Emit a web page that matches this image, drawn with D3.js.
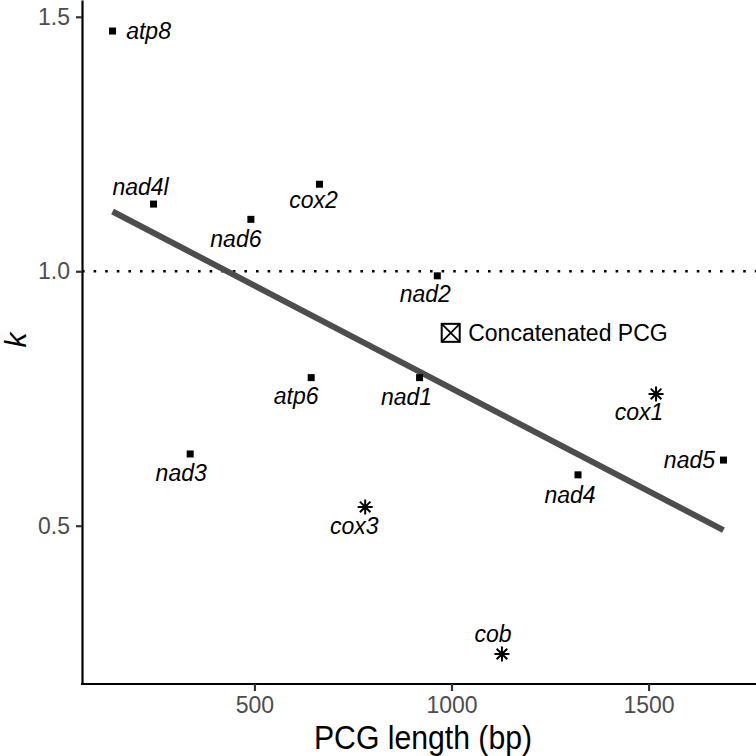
<!DOCTYPE html>
<html>
<head>
<meta charset="utf-8">
<script src="https://cdn.jsdelivr.net/npm/d3@7"></script>
<style>
  body { margin: 0; background: #fff; }
  svg { display: block; }
</style>
</head>
<body>
<div id="chart"></div>
<script>
// gene names, PCG length (bp) and k
var genes   = ["atp8", "nad4l", "nad6", "cox2", "nad2", "atp6", "nad1", "nad3", "cox3", "cob", "cox1", "nad4", "nad5"];
var lengths = [140, 244, 491, 665, 964, 644, 919, 337, 781, 1128, 1519, 1321, 1690];
var kValues = [1.472, 1.132, 1.102, 1.171, 0.991, 0.791, 0.791, 0.641, 0.537, 0.248, 0.759, 0.600, 0.629];
var shapes  = ["square", "square", "square", "square", "square", "square", "square", "square", "star", "star", "star", "square", "square"];

// concatenated PCG point
var concatName = "Concatenated PCG";
var concatLength = 998;
var concatK = 0.879;

// linear fit k ~ length
var lmIntercept = 1.174;
var lmSlope = -0.000404;
var refLine = 1.0;

var xTicks = [500, 1000, 1500];
var yTicks = [0.5, 1.0, 1.5];

// label placement relative to each point (px): dx of text centre, dy of baseline
var labelOffsets = {
    atp8:  [36, 8],   nad4l: [-13, -9], nad6: [-15, 28], cox2: [-6, 24],
    nad2:  [-12, 26], atp6:  [-15, 26], nad1: [-13, 27], nad3: [-9, 27],
    cox3:  [-11, 27], cob:   [-9, -12], cox1: [-17, 26], nad4: [-8, 28],
    nad5:  [-34, 8]
};

var width = 756, height = 756;
var font = "'Liberation Sans', Arial, Helvetica, sans-serif";

var svg = d3.select("#chart")
    .append("svg")
    .attr("width", width)
    .attr("height", height);

var x = d3.scaleLinear().domain([62.5, 1767.5]).range([82, 754]);
var y = d3.scaleLinear().domain([0.189, 1.533]).range([684, 0]);

var data = genes.map(function(g, i){
    return {gene: g, len: lengths[i], k: kValues[i], shape: shapes[i]};
});

// dotted reference line at k = 1
svg.append("line")
    .attr("x1", x.range()[0]).attr("x2", width)
    .attr("y1", y(refLine)).attr("y2", y(refLine))
    .attr("stroke", "#000")
    .attr("stroke-width", 2.6)
    .attr("stroke-dasharray", "2.6,9");

// regression line over the data range
var xr = d3.extent(lengths);
svg.append("line")
    .attr("x1", x(xr[0])).attr("y1", y(lmIntercept + lmSlope * xr[0]))
    .attr("x2", x(xr[1])).attr("y2", y(lmIntercept + lmSlope * xr[1]))
    .attr("stroke", "#4d4d4d")
    .attr("stroke-width", 6);

// axes
var xAxis = svg.append("g")
    .attr("transform", "translate(0," + y.range()[0] + ")")
    .call(d3.axisBottom(x).tickValues(xTicks).tickSizeInner(7).tickSizeOuter(0).tickPadding(6).tickFormat(d3.format("d")));
var yAxis = svg.append("g")
    .attr("transform", "translate(" + x.range()[0] + ",0)")
    .call(d3.axisLeft(y).tickValues(yTicks).tickSizeInner(6).tickSizeOuter(0).tickPadding(6).tickFormat(d3.format(".1f")));

[xAxis, yAxis].forEach(function(a){
    a.select(".domain").attr("stroke", "#000").attr("stroke-width", 2.2);
    a.selectAll(".tick line").attr("stroke", "#333").attr("stroke-width", 2.2);
    a.selectAll(".tick text")
        .attr("fill", "#4d4d4d")
        .style("font-family", font)
        .style("font-size", "23px");
});
// close the x axis line onto the y axis corner
xAxis.select(".domain").attr("d", "M" + (x.range()[0] - 1) + ",0H" + width);

// square points
svg.selectAll(".sq")
    .data(data.filter(function(d){ return d.shape === "square"; }))
    .enter()
    .append("rect")
    .attr("class", "sq")
    .attr("x", function(d){ return x(d.len) - 3.5; })
    .attr("y", function(d){ return y(d.k) - 3.5; })
    .attr("width", 7).attr("height", 7)
    .attr("fill", "#000");

// asterisk points
var star = svg.selectAll(".star")
    .data(data.filter(function(d){ return d.shape === "star"; }))
    .enter()
    .append("g")
    .attr("class", "star")
    .attr("transform", function(d){ return "translate(" + x(d.len) + "," + y(d.k) + ")"; });
star.append("path")
    .attr("d", "M-7.5,0H7.5M0,-7.5V7.5M-5.3,-5.3L5.3,5.3M-5.3,5.3L5.3,-5.3")
    .attr("stroke", "#000")
    .attr("stroke-width", 2);

// gene labels
svg.selectAll(".lab")
    .data(data)
    .enter()
    .append("text")
    .attr("class", "lab")
    .attr("x", function(d){ return x(d.len) + labelOffsets[d.gene][0]; })
    .attr("y", function(d){ return y(d.k) + labelOffsets[d.gene][1]; })
    .attr("text-anchor", "middle")
    .style("font-family", font)
    .style("font-style", "italic")
    .style("font-size", "23px")
    .attr("fill", "#000")
    .text(function(d){ return d.gene; });

// concatenated PCG: boxed cross
var cg = svg.append("g")
    .attr("transform", "translate(" + x(concatLength) + "," + y(concatK) + ")");
cg.append("rect")
    .attr("x", -9).attr("y", -9).attr("width", 18).attr("height", 18)
    .attr("fill", "none").attr("stroke", "#000").attr("stroke-width", 2);
cg.append("path")
    .attr("d", "M-9,-9L9,9M-9,9L9,-9")
    .attr("stroke", "#000").attr("stroke-width", 1.8);
svg.append("text")
    .attr("x", x(concatLength) + 17.5)
    .attr("y", y(concatK) + 8.4)
    .style("font-family", font)
    .style("font-size", "23px")
    .attr("fill", "#000")
    .text(concatName);

// axis titles
svg.append("text")
    .attr("x", 423)
    .attr("y", 749)
    .attr("text-anchor", "middle")
    .attr("textLength", 218)
    .attr("lengthAdjust", "spacingAndGlyphs")
    .style("font-family", font)
    .style("font-size", "34px")
    .attr("fill", "#000")
    .text("PCG length (bp)");

svg.append("text")
    .attr("transform", "translate(26,340) rotate(-90)")
    .attr("text-anchor", "middle")
    .style("font-family", font)
    .style("font-style", "italic")
    .style("font-size", "30px")
    .attr("fill", "#000")
    .text("k");
</script>
</body>
</html>
